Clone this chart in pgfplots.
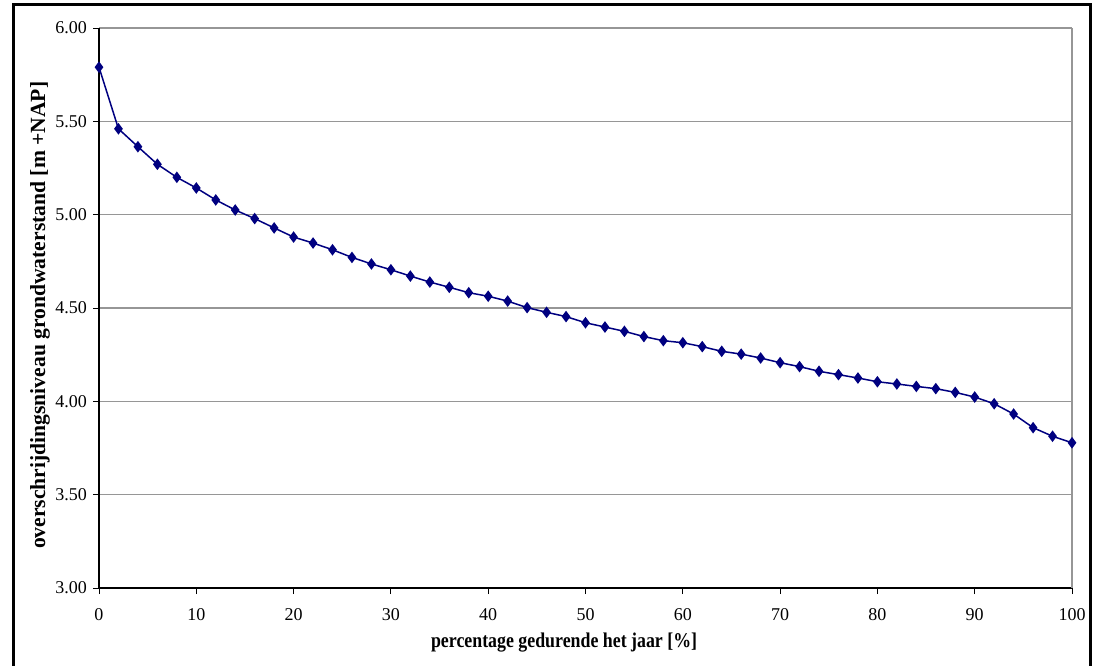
\documentclass[border=0pt]{standalone}
\usepackage{pgfplots}
\pgfplotsset{compat=1.18}
\usepackage{fontspec}
\setmainfont{Liberation Serif}
\definecolor{navyline}{RGB}{0,0,128}
\definecolor{gridgray}{RGB}{150,150,150}
\begin{document}
\begin{tikzpicture}[x=1pt,y=1pt]
\useasboundingbox (0,0) rectangle (548.5,332.5);
\draw[line width=1.5pt] (6.5,-2) -- (6.5,330) -- (545,330) -- (545,-2);
\begin{axis}[
  at={(49.5pt,38.5pt)}, anchor=south west,
  scale only axis, width=486.5pt, height=280pt,
  xmin=0, xmax=100, ymin=3, ymax=6,
  axis x line*=bottom, axis y line*=left,
  axis line style={black, line width=0.6pt, -},
  xtick={0,10,...,100},
  ytick={3,3.5,...,6},
  tick align=outside,
  major tick length=3pt,
  tick style={black, line width=0.5pt},
  ymajorgrids, grid style={gridgray, line width=0.6pt},
  /pgf/number format/assume math mode=true,
  yticklabel style={/pgf/number format/.cd, fixed, fixed zerofill, precision=2, /tikz/.cd, font=\fontsize{9}{10}\selectfont, xshift=0.5pt},
  xticklabel style={font=\fontsize{9}{10}\selectfont, yshift=-3.5pt},
  xlabel={\scalebox{0.85}[1]{\textbf{percentage gedurende het jaar [\%]}}},
  xlabel style={font=\fontsize{10.5}{12}\selectfont, at={(axis description cs:0.478,0)}, anchor=center, yshift=-27.5pt},
  ylabel={\textbf{overschrijdingsniveau grondwaterstand [m +NAP]}},
  ylabel style={font=\fontsize{10.8}{12}\selectfont, at={(axis description cs:-0.0606,0.487)}, anchor=center},
  clip=false,
]
\draw[gridgray, line width=0.6pt] (rel axis cs:1,0) -- (rel axis cs:1,1);
\addplot[navyline, line width=0.75pt, mark=diamond*, mark size=2.3pt, mark options={fill=navyline, draw=navyline}] coordinates {
(0,5.79) (2,5.46) (4,5.364) (6,5.27) (8,5.20) (10,5.143) (12,5.079) (14,5.025)
(16,4.979) (18,4.929) (20,4.880) (22,4.848) (24,4.812) (26,4.771) (28,4.736)
(30,4.705) (32,4.671) (34,4.639) (36,4.611) (38,4.582) (40,4.563) (42,4.537)
(44,4.502) (46,4.477) (48,4.454) (50,4.421) (52,4.398) (54,4.375) (56,4.347)
(58,4.325) (60,4.314) (62,4.293) (64,4.268) (66,4.253) (68,4.232) (70,4.207)
(72,4.186) (74,4.161) (76,4.143) (78,4.125) (80,4.105) (82,4.093) (84,4.080)
(86,4.068) (88,4.048) (90,4.023) (92,3.987) (94,3.932) (96,3.859) (98,3.813)
(100,3.778)
};
\end{axis}
\end{tikzpicture}
\end{document}
